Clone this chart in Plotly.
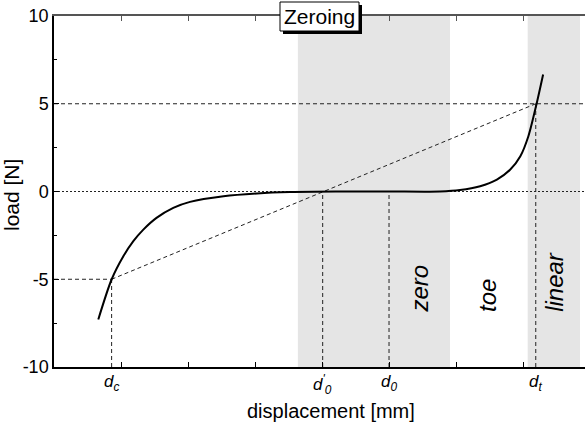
import plotly.graph_objects as go

# ---- data ----
curve_x = [0.661, 0.861, 1.035, 1.184, 1.333, 1.53, 1.78, 2.03, 2.53, 3.03, 3.52, 4.2, 5.0,
           5.76, 6.06, 6.36, 6.61, 6.81, 6.96, 7.08, 7.20, 7.30]
curve_y = [-7.29, -5.0, -3.69, -2.83, -2.17, -1.50, -0.93, -0.59, -0.27, -0.11, -0.03, 0.0, 0.0,
           0.0, 0.08, 0.30, 0.68, 1.25, 2.01, 3.15, 4.96, 6.67]

d_c, d_0p, d_0, d_t = 0.86, 4.01, 5.0, 7.19
load_c, load_t = -5, 5
zero_band = [3.64, 5.91]
linear_band = [7.07, 7.85]
region_labels = ["zero", "toe", "linear"]
region_x = [5.45, 6.48, 7.47]
region_y0 = -7.0
marker_labels = ["<i>d<sub>c</sub></i>", "<i>d<sup>'</sup><sub>0</sub></i>", "<i>d<sub>0</sub></i>", "<i>d<sub>t</sub></i>"]
marker_x = [d_c, d_0p, d_0, d_t]
xr = [0, 7.925]
yr = [-10, 10]
y_ticks = [-10, -5, 0, 5, 10]

FONT = "Arial, Liberation Sans, sans-serif"
dash = "4px,3px"

# layout geometry (pixels)
W, H = 585, 428
ML, MT, MB = 54, 16, 61
PW, PH = W - ML, H - MT - MB


def px_x(p):
    return (p - ML) / PW


def px_y(p):
    return (H - MB - p) / PH


fig = go.Figure()

# bands
for b in (zero_band, linear_band):
    fig.add_shape(type="rect", x0=b[0], x1=b[1], y0=yr[0], y1=yr[1], fillcolor="#e5e5e5", line_width=0, layer="below")

# reference lines
lines = [
    (xr[0], load_t, xr[1], load_t, dash),
    (xr[0], load_c, d_c, load_c, dash),
    (xr[0], 0, xr[1], 0, "2px,2px"),
    (d_c, load_c, d_t, load_t, dash),
    (d_c, yr[0], d_c, load_c, dash),
    (d_0p, yr[0], d_0p, 0, dash),
    (d_0, yr[0], d_0, 0, dash),
    (d_t, yr[0], d_t, load_t, dash),
]
for x0, y0, x1, y1, ds in lines:
    fig.add_trace(go.Scatter(x=[x0, x1], y=[y0, y1], mode="lines", line=dict(color="#222222", width=1, dash=ds),
                             showlegend=False, hoverinfo="skip"))

# curve
fig.add_trace(go.Scatter(x=curve_x, y=curve_y, mode="lines",
                         line=dict(color="black", width=2, shape="spline", smoothing=0.8),
                         showlegend=False, hoverinfo="skip"))

# region labels
for t, x in zip(region_labels, region_x):
    fig.add_annotation(x=x, y=region_y0, yanchor="bottom", text=f"<i>{t}</i>", textangle=-90, showarrow=False,
                       font=dict(family=FONT, size=24, color="black"))

# marker labels
for t, x in zip(marker_labels, marker_x):
    fig.add_annotation(x=x, y=0, yref="paper", yanchor="top", yshift=-3, text=t, showarrow=False,
                       font=dict(family=FONT, size=17, color="black"))

# axis titles
fig.add_annotation(x=px_x(331), y=px_y(411), xref="paper", yref="paper", yanchor="middle",
                   text="displacement [mm]", showarrow=False, font=dict(family=FONT, size=20, color="black"))
fig.add_annotation(x=px_x(11), y=0.49, xref="paper", yref="paper", xanchor="center", yanchor="middle",
                   text="load [N]", textangle=-90, showarrow=False, font=dict(family=FONT, size=21, color="black"))

# title box with shadow
box = (280, 359, 2, 31)
fig.add_shape(type="rect", xref="paper", yref="paper", x0=px_x(box[0] + 3), x1=px_x(box[1] + 3),
              y0=px_y(box[3] + 3), y1=px_y(box[2] + 3), fillcolor="black", line_width=0, layer="above")
fig.add_shape(type="rect", xref="paper", yref="paper", x0=px_x(box[0]), x1=px_x(box[1]),
              y0=px_y(box[3]), y1=px_y(box[2]), fillcolor="white", line=dict(color="black", width=1), layer="above")
fig.add_annotation(x=px_x((box[0] + box[1]) / 2), y=px_y((box[2] + box[3]) / 2), xref="paper", yref="paper",
                   yanchor="middle", text="Zeroing", showarrow=False,
                   font=dict(family=FONT, size=21, color="black"))

fig.update_layout(
    width=W, height=H,
    margin=dict(l=ML, r=0, t=MT, b=MB),
    plot_bgcolor="white", paper_bgcolor="white",
    font=dict(family=FONT, size=18, color="black"),
    xaxis=dict(range=xr, showgrid=False, zeroline=False, showline=True, linecolor="black", linewidth=1.5,
               ticks="inside", ticklen=5, tickcolor="black", dtick=1, tick0=0, showticklabels=False),
    xaxis2=dict(range=xr, overlaying="x", side="top", showgrid=False, zeroline=False, showline=True,
                linecolor="#555555", linewidth=2, ticks="inside", ticklen=5, tickcolor="#555555",
                dtick=1, tick0=0, showticklabels=False),
    yaxis=dict(range=yr, showgrid=False, zeroline=False, showline=True, linecolor="black", linewidth=1.5,
               ticks="inside", ticklen=5, tickcolor="black", tickvals=y_ticks, ticktext=[str(v) for v in y_ticks],
               minor=dict(ticks="inside", ticklen=3, dtick=2.5, tickcolor="black")),
)
fig.add_trace(go.Scatter(x=[None], y=[None], xaxis="x2", showlegend=False))

fig.write_html("out.html")
